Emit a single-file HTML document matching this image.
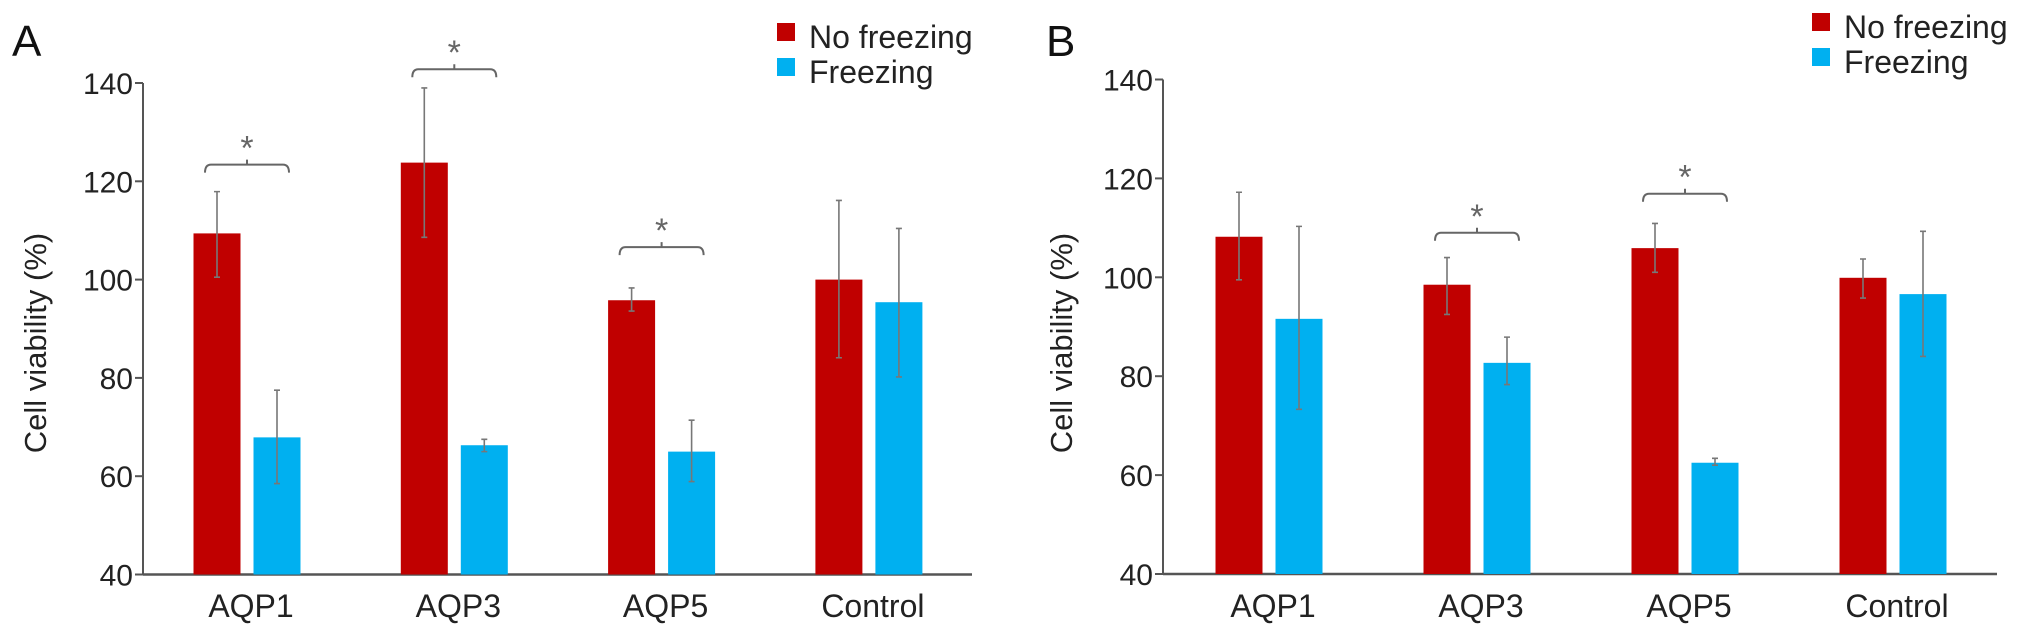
<!DOCTYPE html>
<html><head><meta charset="utf-8"><style>
html,body{margin:0;padding:0;background:#fff;}
svg{display:block;font-family:"Liberation Sans",Arial,sans-serif;}
</style></head><body>
<svg id="chart" width="2031" height="629" viewBox="0 0 2031 629" xmlns="http://www.w3.org/2000/svg"></svg>
<script>
const categories = ["AQP1","AQP3","AQP5","Control"];
const ticks = [40,60,80,100,120,140];
const aNoFreeze = [109.4,123.8,95.8,100];
const aNoFreezeLo = [100.5,108.6,93.6,84.1];
const aNoFreezeHi = [117.9,139,98.3,116.1];
const aFreeze = [67.9,66.3,65,95.4];
const aFreezeLo = [58.5,65,58.9,80.2];
const aFreezeHi = [77.5,67.5,71.4,110.4];
const aSig = [123.4,142.8,106.6,null];
const bNoFreeze = [108.2,98.5,105.9,99.9];
const bNoFreezeLo = [99.5,92.5,101,95.8];
const bNoFreezeHi = [117.2,104,110.9,103.7];
const bFreeze = [91.6,82.7,62.5,96.6];
const bFreezeLo = [73.3,78.3,62,84];
const bFreezeHi = [110.3,87.9,63.4,109.3];
const bSig = [null,109,116.9,null];

const NS="http://www.w3.org/2000/svg";
const svg=document.getElementById('chart');
function mk(tag,attrs,parent){const e=document.createElementNS(NS,tag);for(const k in attrs)e.setAttribute(k,attrs[k]);(parent||svg).appendChild(e);return e;}

function panel(o){
  const g=mk('g',{});
  
  
  const y=v=>o.y0-(v-40)*(o.y0-o.y1)/100;
  const x=i=>o.c0+i*o.step;
  const L=mk('text',{x:o.letterX,y:56,'font-size':44,fill:'#111'},g);L.textContent=o.letter;
  
  
  const T=mk('text',{x:0,y:0,'font-size':31,fill:'#222','text-anchor':'middle',transform:`translate(${o.titleX},343) rotate(-90)`},g);
  T.textContent='Cell viability (%)';
  
  
  const ya=mk('line',{x1:o.ax,y1:y(140),x2:o.ax,y2:y(40),stroke:'#555','stroke-width':2},g);
  
  
  const xa=mk('line',{x1:o.ax,y1:y(40),x2:o.axEnd,y2:y(40),stroke:'#555','stroke-width':2.5},g);
  
  
  ticks.forEach(t=>{
    const tl=mk('line',{x1:o.ax-8,y1:y(t),x2:o.ax,y2:y(t),stroke:'#555','stroke-width':2},g);
    
    
    const tt=mk('text',{x:o.ax-10,y:y(t)+11,'font-size':30,fill:'#222','text-anchor':'end'},g);
    tt.textContent=t;
    
    
  });
  categories.forEach((c,i)=>{
    const cx=x(i);
    const bw=47, off=60;
    [[o.nf,o.nfLo,o.nfHi,'#C00000',cx,'bar-no-freezing'],[o.f,o.fLo,o.fHi,'#00B0F0',cx+off,'bar-freezing']].forEach(s=>{
      const v=s[0][i];
      const r=mk('rect',{x:s[4]-bw/2,y:y(v),width:bw,height:y(40)-y(v),fill:s[3]},g);
      
      
      const e=mk('path',{d:`M${s[4]},${y(s[2][i])}V${y(s[1][i])}M${s[4]-3},${y(s[2][i])}H${s[4]+3}M${s[4]-3},${y(s[1][i])}H${s[4]+3}`,stroke:'#777','stroke-width':1.6,fill:'none'},g);
      
      
    });
    const lab=mk('text',{x:cx+off/2+4,y:617,'font-size':32,fill:'#222','text-anchor':'middle'},g);
    lab.textContent=c;
    
    
    const sv=o.sig[i];
    if(sv!==null){
      const by=y(sv), xl=cx-12, xr=cx+off+12, xm=(xl+xr)/2;
      const br=mk('path',{d:`M${xl},${by+8}Q${xl},${by} ${xl+6},${by}H${xr-6}Q${xr},${by} ${xr},${by+8}M${xm},${by}V${by-5}`,stroke:'#666','stroke-width':2,fill:'none'},g);
      
      
      const st=mk('text',{x:xm,y:by-5,'font-size':34,fill:'#666','text-anchor':'middle'},g);
      st.textContent='*';
      
      
    }
  });
  const lg=mk('g',{},g);
  
  
  [['No freezing','#C00000',o.legY],['Freezing','#00B0F0',o.legY+35]].forEach(l=>{
    const s=mk('rect',{x:o.legX,y:l[2]-25,width:18,height:18,fill:l[1]},lg);
    
    
    const t=mk('text',{x:o.legX+32,y:l[2],'font-size':32,fill:'#222'},lg);
    t.textContent=l[0];
    
    
  });
}
panel({name:'panel-a',letter:'A',letterX:12,titleX:46,ax:143,axEnd:972,y0:574.5,y1:83,c0:217,step:207.3,
  nf:aNoFreeze,nfLo:aNoFreezeLo,nfHi:aNoFreezeHi,f:aFreeze,fLo:aFreezeLo,fHi:aFreezeHi,sig:aSig,legX:777,legY:48});
panel({name:'panel-b',letter:'B',letterX:1046,titleX:1072,ax:1163,axEnd:1997,y0:574,y1:79.5,c0:1239,step:208,
  nf:bNoFreeze,nfLo:bNoFreezeLo,nfHi:bNoFreezeHi,f:bFreeze,fLo:bFreezeLo,fHi:bFreezeHi,sig:bSig,legX:1812,legY:38});
</script>
</body></html>
